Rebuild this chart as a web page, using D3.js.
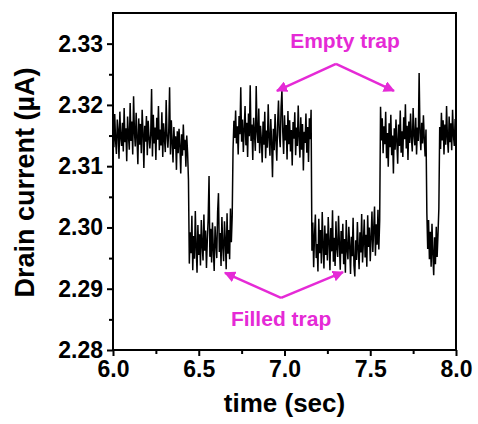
<!DOCTYPE html>
<html>
<head>
<meta charset="utf-8">
<script src="https://cdn.jsdelivr.net/npm/d3@7"></script>
<style>
  body { margin: 0; background: #fff; }
  svg { display: block; font-family: "Liberation Sans", Arial, sans-serif; font-weight: bold; }
</style>
</head>
<body>
<svg id="chart"></svg>
<script>
// sampling of the trace
const t0 = 6.0;
const dt = 0.005;

// drain current (uA), one value per sample, read segment by segment
const empty1 = [
  2.3168, 2.3131, 2.3185, 2.3142, 2.3120, 2.3176, 2.3158, 2.3112, 2.3189, 2.3147,
  2.3133, 2.3171, 2.3124, 2.3195, 2.3139, 2.3162, 2.3108, 2.3181, 2.3150, 2.3127,
  2.3203, 2.3141, 2.3173, 2.3119, 2.3214, 2.3156, 2.3132, 2.3187, 2.3146, 2.3103,
  2.3178, 2.3135, 2.3169, 2.3121, 2.3192, 2.3155, 2.3097, 2.3166, 2.3140, 2.3182,
  2.3118, 2.3174, 2.3148, 2.3129, 2.3152, 2.3226, 2.3116, 2.3184, 2.3137, 2.3163,
  2.3110, 2.3179, 2.3143, 2.3198, 2.3126, 2.3160, 2.3134, 2.3188, 2.3115, 2.3170,
  2.3145, 2.3123, 2.3208, 2.3151, 2.3130, 2.3157, 2.3229, 2.3119, 2.3175, 2.3139,
  2.3106, 2.3164, 2.3128, 2.3149, 2.3094, 2.3157, 2.3121, 2.3161, 2.3133, 2.3088,
  2.3152, 2.3117, 2.3168, 2.3126, 2.3143, 2.3099, 2.3150, 2.3122, 2.3078
];
const filled1 = [
  2.2941, 2.2992, 2.2958, 2.3019, 2.2930, 2.2986, 2.2949, 2.3027, 2.2967, 2.2926,
  2.3004, 2.2955, 2.2989, 2.2938, 2.3012, 2.2971, 2.2946, 2.3021, 2.2962, 2.2995,
  2.2934, 2.2980, 2.3015, 2.3084, 2.2952, 2.2998, 2.2943, 2.3008, 2.2965, 2.2929,
  2.3002, 2.2974, 2.2950, 2.3025, 2.3056, 2.2960, 2.2991, 2.2937, 2.3017, 2.2969,
  2.2945, 2.3010, 2.2978, 2.2932, 2.3023, 2.2957, 2.2996, 2.2948, 2.3031, 2.2976,
  2.3018
];
const empty2 = [
  2.3128, 2.3174, 2.3146, 2.3191, 2.3137, 2.3165, 2.3119, 2.3182, 2.3152, 2.3229,
  2.3140, 2.3176, 2.3123, 2.3160, 2.3198, 2.3134, 2.3171, 2.3115, 2.3186, 2.3149,
  2.3232, 2.3141, 2.3168, 2.3110, 2.3179, 2.3153, 2.3125, 2.3231, 2.3157, 2.3138,
  2.3194, 2.3121, 2.3166, 2.3144, 2.3106, 2.3173, 2.3135, 2.3189, 2.3113, 2.3158,
  2.3130, 2.3201, 2.3147, 2.3117, 2.3177, 2.3139, 2.3082, 2.3161, 2.3126, 2.3185,
  2.3143, 2.3109, 2.3170, 2.3207, 2.3150, 2.3131, 2.3196, 2.3224, 2.3155, 2.3120,
  2.3183, 2.3142, 2.3167, 2.3111, 2.3190, 2.3136, 2.3175, 2.3124, 2.3159, 2.3101,
  2.3172, 2.3145, 2.3188, 2.3118, 2.3163, 2.3133, 2.3199, 2.3148, 2.3114, 2.3180,
  2.3127, 2.3169, 2.3093, 2.3156, 2.3138, 2.3186, 2.3122, 2.3164, 2.3107, 2.3178,
  2.3144, 2.3192
];
const filled2 = [
  2.2962, 2.3008, 2.2935, 2.2987, 2.3021, 2.2950, 2.2973, 2.2928, 2.3014, 2.2958,
  2.2996, 2.2941, 2.3025, 2.2969, 2.2933, 2.3003, 2.2955, 2.2990, 2.2946, 2.3017,
  2.2978, 2.2930, 2.2999, 2.2961, 2.3028, 2.2944, 2.2983, 2.2937, 2.3010, 2.2966,
  2.2952, 2.3019, 2.2975, 2.2931, 2.2994, 2.2957, 2.3006, 2.2940, 2.2981, 2.2926,
  2.3012, 2.2963, 2.2948, 2.3001, 2.2970, 2.2924, 2.2985, 2.2953, 2.3016, 2.2938,
  2.2920, 2.2979, 2.2947, 2.3009, 2.2965, 2.2932, 2.2992, 2.2959, 2.3022, 2.2943,
  2.2976, 2.3013, 2.2951, 2.2988, 2.2936, 2.3020, 2.2968, 2.3000, 2.2945, 2.2984,
  2.3026, 2.2960, 2.2997, 2.3034, 2.2954, 2.3005, 2.2972, 2.3029, 2.2964, 2.3011
];
const empty3 = [
  2.3197, 2.3142, 2.3178, 2.3121, 2.3165, 2.3136, 2.3189, 2.3113, 2.3154, 2.3099,
  2.3170, 2.3131, 2.3184, 2.3118, 2.3150, 2.3088, 2.3162, 2.3127, 2.3176, 2.3140,
  2.3104, 2.3168, 2.3133, 2.3191, 2.3122, 2.3157, 2.3115, 2.3180, 2.3144, 2.3201,
  2.3129, 2.3166, 2.3110, 2.3173, 2.3138, 2.3186, 2.3147, 2.3124, 2.3195, 2.3151,
  2.3134, 2.3179, 2.3119, 2.3163, 2.3141, 2.3252, 2.3155, 2.3126, 2.3171, 2.3137,
  2.3183, 2.3145, 2.3116, 2.3160
];
const filled3 = [
  2.3024, 2.2965, 2.3012, 2.2948, 2.2993, 2.2936, 2.3006, 2.2957, 2.2922, 2.2984,
  2.2940, 2.3001, 2.2952, 2.2989, 2.3031
];
const empty4 = [
  2.3164, 2.3128, 2.3187, 2.3142, 2.3175, 2.3119, 2.3168, 2.3135, 2.3198, 2.3147,
  2.3122, 2.3181, 2.3139, 2.3170, 2.3126, 2.3192, 2.3151, 2.3133, 2.3177, 2.3145
];

const current = [].concat(empty1, filled1, empty2, filled2, empty3, filled3, empty4);

const xTicks = [6.0, 6.5, 7.0, 7.5, 8.0];
const xMinor = [6.25, 6.75, 7.25, 7.75];
const yTicks = [2.28, 2.29, 2.30, 2.31, 2.32, 2.33];
const yMinor = [2.285, 2.295, 2.305, 2.315, 2.325];

// annotation anchors in data units (time, current)
const emptyLabel = {text: 'Empty trap', at: [7.353, 2.3293], apex: [7.300, 2.3267], tips: [[6.956, 2.3223], [7.638, 2.3223]]};
const filledLabel = {text: 'Filled trap', at: [6.980, 2.2839], apex: [6.980, 2.2885], tips: [[6.653, 2.2926], [7.341, 2.2927]]};

const width = 478;
const height = 424;
const magenta = '#e52ad6';

const svg = d3.select('#chart')
  .attr('width', width)
  .attr('height', height);

const x = d3.scaleLinear().domain([6, 8]).range([113, 456]);
const y = d3.scaleLinear().domain([2.28, 2.335]).range([350, 13]);

// trace
const line = d3.line()
  .x((d, i) => x(t0 + i * dt))
  .y((d) => y(d));

svg.append('path')
  .datum(current)
  .attr('fill', 'none')
  .attr('stroke', '#000')
  .attr('stroke-width', 1.5)
  .attr('stroke-linejoin', 'miter')
  .attr('d', line);

// frame
svg.append('rect')
  .attr('x', x(6)).attr('y', y(2.335))
  .attr('width', x(8) - x(6)).attr('height', y(2.28) - y(2.335))
  .attr('fill', 'none')
  .attr('stroke', '#000')
  .attr('stroke-width', 2);

// bottom axis
svg.append('g')
  .attr('transform', `translate(0, ${y(2.28)})`)
  .call(d3.axisBottom(x).tickValues(xTicks).tickFormat(d3.format('.1f')).tickSize(6).tickPadding(5));
svg.append('g')
  .attr('transform', `translate(0, ${y(2.28)})`)
  .call(d3.axisBottom(x).tickValues(xMinor).tickFormat('').tickSize(4));

// left axis
svg.append('g')
  .attr('transform', `translate(${x(6)}, 0)`)
  .call(d3.axisLeft(y).tickValues(yTicks).tickFormat(d3.format('.2f')).tickSize(6).tickPadding(4));
svg.append('g')
  .attr('transform', `translate(${x(6)}, 0)`)
  .call(d3.axisLeft(y).tickValues(yMinor).tickFormat('').tickSize(4));

svg.selectAll('.domain').remove();
svg.selectAll('.tick line').attr('stroke', '#000').attr('stroke-width', 2);
svg.selectAll('.tick text')
  .attr('fill', '#000')
  .style('font-family', '"Liberation Sans", Arial, sans-serif')
  .style('font-weight', 'bold')
  .style('font-size', '23px');

// axis titles
svg.append('text')
  .attr('x', (x(6) + x(8)) / 2)
  .attr('y', 412)
  .attr('text-anchor', 'middle')
  .style('font-size', '26px')
  .text('time (sec)');

svg.append('text')
  .attr('transform', `translate(34, ${(62 + 303) / 2}) rotate(-90)`)
  .attr('text-anchor', 'middle')
  .style('font-size', '27px')
  .text('Drain current (\u00b5A)');

// annotations
svg.append('defs').append('marker')
  .attr('id', 'head')
  .attr('viewBox', '0 0 10 10')
  .attr('refX', 9).attr('refY', 5)
  .attr('markerWidth', 4.5).attr('markerHeight', 4.5)
  .attr('orient', 'auto')
  .append('path')
  .attr('d', 'M0,0 L10,5 L0,10 z')
  .attr('fill', magenta);

[emptyLabel, filledLabel].forEach((a) => {
  svg.append('text')
    .attr('x', x(a.at[0]))
    .attr('y', y(a.at[1]))
    .attr('text-anchor', 'middle')
    .attr('fill', magenta)
    .style('font-size', '21px')
    .text(a.text);

  a.tips.forEach((tip) => {
    svg.append('line')
      .attr('x1', x(a.apex[0])).attr('y1', y(a.apex[1]))
      .attr('x2', x(tip[0])).attr('y2', y(tip[1]))
      .attr('stroke', magenta)
      .attr('stroke-width', 2.5)
      .attr('marker-end', 'url(#head)');
  });
});
</script>
</body>
</html>
